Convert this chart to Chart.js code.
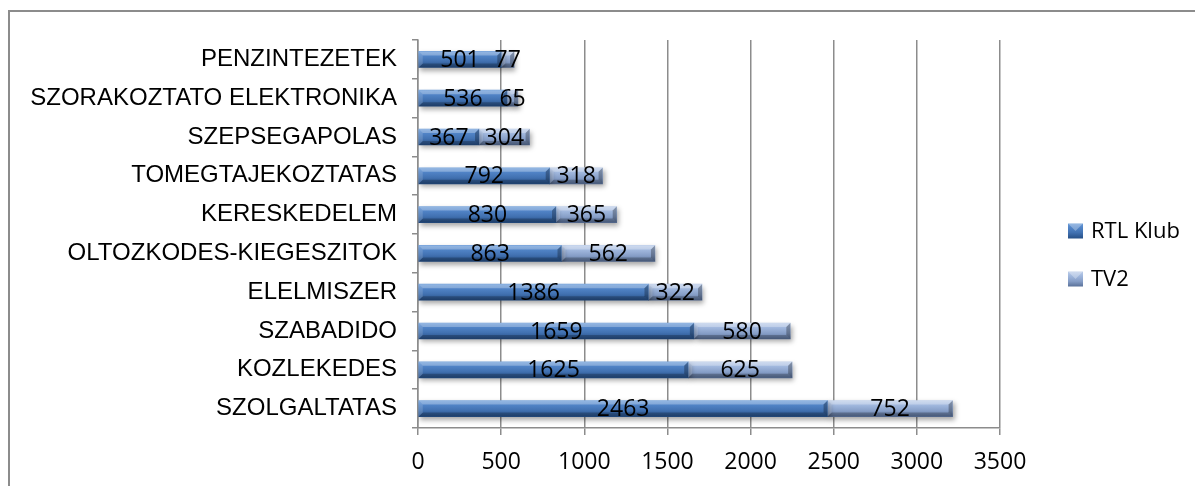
<!DOCTYPE html>
<html>
<head>
<meta charset="utf-8">
<script src="https://cdn.jsdelivr.net/npm/chart.js@4.4.0/dist/chart.umd.min.js"></script>
<style>
  html, body { margin: 0; padding: 0; background: #fff; }
  #wrap { width: 1195px; height: 486px; }
</style>
</head>
<body>
<div id="wrap"><canvas id="myChart"></canvas></div>
<script>
const categories = [
    'PENZINTEZETEK',
    'SZORAKOZTATO ELEKTRONIKA',
    'SZEPSEGAPOLAS',
    'TOMEGTAJEKOZTATAS',
    'KERESKEDELEM',
    'OLTOZKODES-KIEGESZITOK',
    'ELELMISZER',
    'SZABADIDO',
    'KOZLEKEDES',
    'SZOLGALTATAS'
];
const rtlKlub = [501, 536, 367, 792, 830, 863, 1386, 1659, 1625, 2463];
const tv2 = [77, 65, 304, 318, 365, 562, 322, 580, 625, 752];
const xMax = 3500;
const xStep = 500;

const BAR_H = 16;
const numFamily = '"Open Sans", Lato, sans-serif';
const numFont = '23px ' + numFamily;

// vertical gradient stops for the two series
const rtlStops = [[0, '#6a9bd8'], [0.25, '#5285c8'], [0.6, '#4272b2'], [1, '#264f86']];
const tv2Stops = [[0, '#bccde9'], [0.3, '#a0b7dd'], [0.65, '#869ec7'], [1, '#5a7199']];

function barGradient(stops) {
    return function(context) {
        const chart = context.chart;
        if (!chart.chartArea || context.type !== 'data') return stops[2][1];
        const y = chart.scales.y.getPixelForValue(context.dataIndex);
        const g = chart.ctx.createLinearGradient(0, y - BAR_H / 2, 0, y + BAR_H / 2);
        stops.forEach(s => g.addColorStop(s[0], s[1]));
        return g;
    };
}

// shadow under the bars, bevel edges and the value labels
const barDecor = {
    id: 'barDecor',
    beforeDatasetsDraw(chart) {
        const ctx = chart.ctx;
        ctx.save();
        ctx.shadowColor = 'rgba(0,0,0,0.35)';
        ctx.shadowBlur = 5;
        ctx.shadowOffsetX = 2;
        ctx.shadowOffsetY = 3;
    },
    afterDatasetsDraw(chart) {
        const ctx = chart.ctx;
        ctx.restore();
        ctx.save();
        const b = 4;
        chart.data.datasets.forEach((ds, di) => {
            chart.getDatasetMeta(di).data.forEach(bar => {
                const p = bar.getProps(['x', 'y', 'base', 'height'], true);
                const l = Math.min(p.base, p.x), r = Math.max(p.base, p.x);
                const t = p.y - p.height / 2, btm = p.y + p.height / 2;
                const bb = Math.min(b, (r - l) / 2);
                const poly = (pts, col) => {
                    ctx.beginPath();
                    ctx.moveTo(pts[0][0], pts[0][1]);
                    pts.slice(1).forEach(q => ctx.lineTo(q[0], q[1]));
                    ctx.closePath();
                    ctx.fillStyle = col;
                    ctx.fill();
                };
                poly([[l, t], [r, t], [r - bb, t + bb], [l + bb, t + bb]], 'rgba(255,255,255,0.28)');
                poly([[l, btm], [r, btm], [r - bb, btm - bb], [l + bb, btm - bb]], 'rgba(0,0,0,0.22)');
                poly([[r, t], [r, btm], [r - bb, btm - bb], [r - bb, t + bb]], 'rgba(0,0,0,0.28)');
                poly([[l, t], [l, btm], [l + bb, btm - bb], [l + bb, t + bb]], 'rgba(255,255,255,0.15)');
            });
        });
        ctx.font = numFont;
        ctx.fillStyle = '#000';
        ctx.textAlign = 'center';
        ctx.textBaseline = 'middle';
        chart.data.datasets.forEach((ds, di) => {
            chart.getDatasetMeta(di).data.forEach((bar, i) => {
                const p = bar.getProps(['x', 'y', 'base'], true);
                ctx.fillText(String(ds.data[i]), (p.x + p.base) / 2, p.y + 1);
            });
        });
        ctx.restore();
    },
    afterDraw(chart) {
        const ctx = chart.ctx;
        ctx.save();
        // outer frame
        ctx.strokeStyle = '#8c8c8c';
        ctx.lineWidth = 2;
        ctx.strokeRect(9, 11, chart.width + 20, chart.height + 20);
        // legend
        const items = [
            { label: chart.data.datasets[0].label, stops: rtlStops, y: 231 },
            { label: chart.data.datasets[1].label, stops: tv2Stops, y: 279 }
        ];
        items.forEach(it => {
            const x0 = 1068, s = 15, y0 = it.y - s / 2;
            const g = ctx.createLinearGradient(0, y0, 0, y0 + s);
            it.stops.forEach(st => g.addColorStop(st[0], st[1]));
            ctx.fillStyle = g;
            ctx.fillRect(x0, y0, s, s);
            ctx.fillStyle = 'rgba(255,255,255,0.3)';
            ctx.beginPath();
            ctx.moveTo(x0, y0); ctx.lineTo(x0 + s, y0); ctx.lineTo(x0 + s / 2, y0 + s / 2); ctx.closePath();
            ctx.fill();
            ctx.fillStyle = '#000';
            ctx.font = '22px ' + numFamily;
            ctx.textAlign = 'left';
            ctx.textBaseline = 'middle';
            ctx.fillText(it.label, 1091, it.y + 1);
        });
        ctx.restore();
    }
};

const ctx = document.getElementById('myChart').getContext('2d');
const myChart = new Chart(ctx, {
    type: 'bar',
    data: {
        labels: categories,
        datasets: [{
            label: 'RTL Klub',
            data: rtlKlub,
            backgroundColor: barGradient(rtlStops),
            borderWidth: 0,
            barThickness: BAR_H
        }, {
            label: 'TV2',
            data: tv2,
            backgroundColor: barGradient(tv2Stops),
            borderWidth: 0,
            barThickness: BAR_H
        }]
    },
    options: {
        indexAxis: 'y',
        responsive: true,
        maintainAspectRatio: false,
        devicePixelRatio: 1,
        animation: false,
        layout: { padding: { left: 0, top: 40, right: 195, bottom: 0 } },
        plugins: {
            legend: { display: false },
            tooltip: { enabled: false }
        },
        scales: {
            x: {
                stacked: true,
                min: 0,
                max: xMax,
                ticks: {
                    stepSize: xStep,
                    color: '#000',
                    font: { family: numFamily, size: 23 },
                    padding: 14,
                    maxRotation: 0,
                    callback: v => String(v)
                },
                grid: { color: '#8c8c8c', lineWidth: 1.5, tickLength: 7, drawTicks: true },
                border: { color: '#8c8c8c', width: 1.5 },
                afterFit(scale) { scale.height = 58; }
            },
            y: {
                stacked: true,
                ticks: {
                    color: '#000',
                    font: { family: '"Liberation Sans", Arial, sans-serif', size: 24 },
                    padding: 15,
                    autoSkip: false
                },
                grid: { drawOnChartArea: false, color: '#8c8c8c', lineWidth: 1.5, tickLength: 6 },
                border: { color: '#8c8c8c', width: 1.5 },
                afterFit(scale) { scale.width = 418; }
            }
        }
    },
    plugins: [barDecor]
});
</script>
</body>
</html>
